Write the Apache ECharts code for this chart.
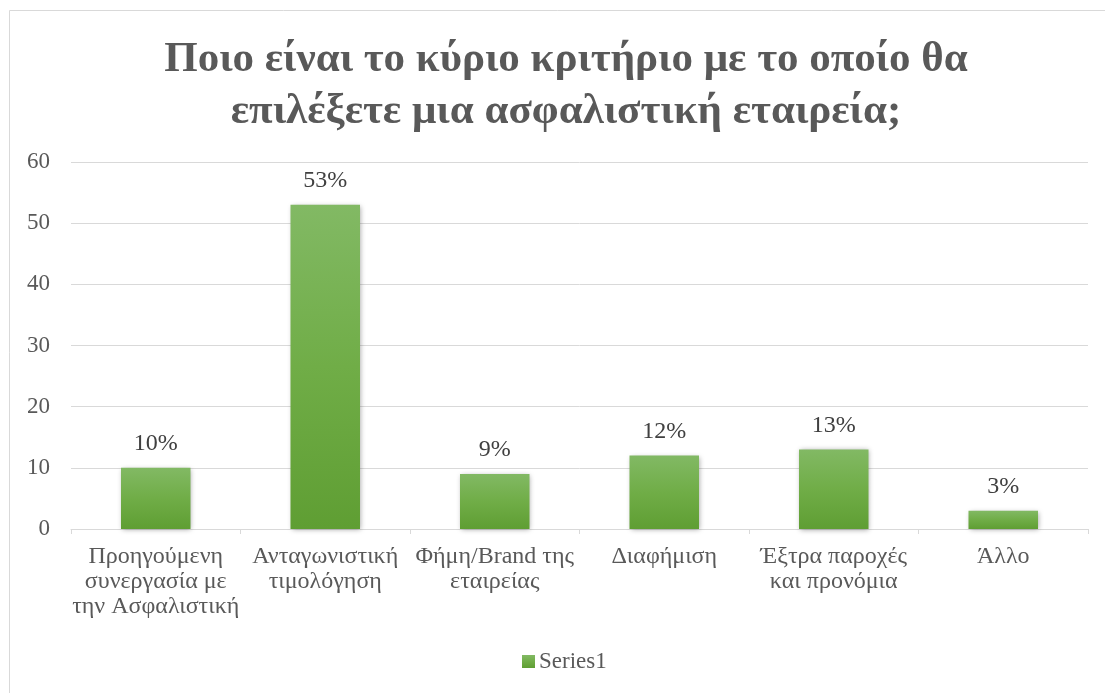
<!DOCTYPE html>
<html>
<head>
<meta charset="utf-8">
<style>
  html, body { margin: 0; padding: 0; background: #fff; }
  #chart { width: 1105px; height: 693px; }
</style>
<script src="https://cdn.jsdelivr.net/npm/echarts@6/dist/echarts.min.js"></script>
</head>
<body>
<div id="chart"></div>
<script>
// Survey: main criterion for choosing an insurance company
const categories = [
  'Προηγούμενη\nσυνεργασία με\nτην Ασφαλιστική',
  'Ανταγωνιστική\nτιμολόγηση',
  'Φήμη/Brand της\nεταιρείας',
  'Διαφήμιση',
  'Έξτρα παροχές\nκαι προνόμια',
  'Άλλο'
];
const series1 = [10, 53, 9, 12, 13, 3];
const yTicks = [0, 10, 20, 30, 40, 50, 60];

const serif = 'Liberation Serif';
const textGrey = '#595959';

const chart = echarts.init(document.getElementById('chart'), null, { renderer: 'canvas' });

chart.setOption({
  animation: false,
  backgroundColor: '#ffffff',
  title: {
    text: 'Ποιο είναι το κύριο κριτήριο με το οποίο θα\nεπιλέξετε μια ασφαλιστική εταιρεία;',
    left: 561,
    textAlign: 'center',
    top: 29,
    textStyle: {
      fontFamily: serif,
      fontWeight: 'bold',
      fontSize: 43,
      lineHeight: 52,
      color: textGrey
    }
  },
  graphic: [{
    type: 'rect',
    silent: true,
    shape: { x: 9.5, y: 10.5, width: 1110, height: 700 },
    style: { fill: 'none', stroke: '#d9d9d9', lineWidth: 1 }
  }],
  legend: {
    bottom: 15,
    left: 517,
    itemWidth: 13,
    itemHeight: 13,
    icon: 'rect',
    textStyle: { fontFamily: serif, fontSize: 23, color: textGrey, padding: [0, 0, 0, -1] },
    data: ['Series1']
  },
  grid: { left: 71, right: 17, top: 162, bottom: 164 },
  xAxis: {
    type: 'category',
    data: categories,
    boundaryGap: true,
    axisLine: { show: true, lineStyle: { color: '#d9d9d9', width: 1 } },
    axisTick: { show: true, length: 5, alignWithLabel: false, lineStyle: { color: '#d9d9d9' } },
    axisLabel: {
      interval: 0,
      margin: 15,
      fontFamily: serif,
      fontSize: 24,
      lineHeight: 25,
      color: textGrey
    }
  },
  yAxis: {
    type: 'value',
    min: yTicks[0],
    max: yTicks[yTicks.length - 1],
    interval: 10,
    axisLine: { show: false },
    axisTick: { show: false },
    splitLine: { lineStyle: { color: '#d9d9d9', width: 1 } },
    axisLabel: {
      margin: 21,
      fontFamily: serif,
      fontSize: 23,
      color: textGrey
    }
  },
  series: [{
    name: 'Series1',
    type: 'bar',
    data: series1,
    barWidth: '41%',
    itemStyle: {
      color: new echarts.graphic.LinearGradient(0, 0, 0, 1, [
        { offset: 0, color: '#82b964' },
        { offset: 0.5, color: '#70ad47' },
        { offset: 1, color: '#5f9e33' }
      ]),
      shadowColor: 'rgba(0,0,0,0.35)',
      shadowBlur: 5,
      shadowOffsetX: 1,
      shadowOffsetY: 1
    },
    label: {
      show: true,
      position: 'top',
      distance: 12,
      formatter: p => p.value + '%',
      fontFamily: serif,
      fontSize: 24,
      color: '#404040'
    }
  }]
});
</script>
</body>
</html>
